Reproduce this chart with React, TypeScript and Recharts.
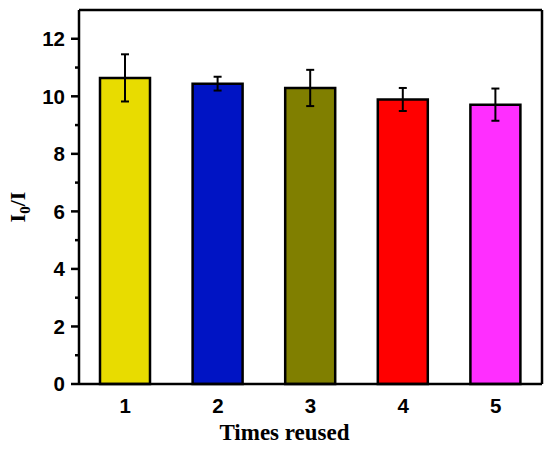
import React from "react";
import { BarChart, Bar, XAxis, YAxis, ErrorBar, Cell, ReferenceLine } from "recharts";

const times = ["1", "2", "3", "4", "5"];
const ratio = [10.64, 10.44, 10.29, 9.89, 9.71];
const errs = [0.82, 0.24, 0.63, 0.4, 0.56];
const colors = ["#E8DC00", "#0014C4", "#807F00", "#FF0000", "#FF2EFF"];
const yTicks = [0, 1, 2, 3, 4, 5, 6, 7, 8, 9, 10, 11, 12];

const data = times.map((t, i) => ({ t, v: ratio[i], e: errs[i] }));

const sans = "'Liberation Sans', Arial, sans-serif";
const serif = "'Liberation Serif', 'Times New Roman', serif";

// left axis ticks: long + label on even values, short on odd
const YTick = (props: any) => {
  const { x, y, payload } = props;
  const v = payload.value;
  const major = v % 2 === 0;
  return (
    <g>
      <line x1={x - (major ? 8 : 4)} x2={x} y1={y} y2={y} stroke="#000" strokeWidth={2.5} />
      {major && (
        <text x={x - 14} y={y} dy="0.36em" textAnchor="end" fontFamily={sans} fontWeight="bold" fontSize={20.5} fill="#000">
          {v}
        </text>
      )}
    </g>
  );
};

const XTick = (props: any) => {
  const { x, y, payload } = props;
  return (
    <text x={x} y={y} dy="0.72em" textAnchor="middle" fontFamily={sans} fontWeight="bold" fontSize={20.5} fill="#000">
      {payload.value}
    </text>
  );
};

export default function App() {
  return (
    <div style={{ position: "absolute", left: 0, top: 0 }}>
      <BarChart width={550} height={449} data={data} margin={{ top: 10, right: 0, bottom: 0, left: 0 }}>
        <XAxis
          dataKey="t"
          height={65}
          tickLine={false}
          tickSize={0}
          tickMargin={14}
          tick={<XTick />}
          axisLine={{ stroke: "#000", strokeWidth: 2.5 }}
          label={(p: any) => {
            const vb = p.viewBox || { x: 79, width: 463, y: 384 };
            return (
              <text x={vb.x + vb.width / 2 - 26} y={vb.y + 56} textAnchor="middle" fontFamily={serif} fontWeight="bold" fontSize={23} fill="#000">
                Times reused
              </text>
            );
          }}
        />
        <YAxis
          width={79}
          domain={[0, 13]}
          ticks={yTicks}
          interval={0}
          tickLine={false}
          tickSize={0}
          tickMargin={0}
          tick={<YTick />}
          axisLine={{ stroke: "#000", strokeWidth: 2.5 }}
          label={(p: any) => {
            const vb = p.viewBox || { y: 10, height: 374 };
            const cy = vb.y + vb.height / 2 + 10;
            return (
              <text transform={`translate(25,${cy}) rotate(-90)`} textAnchor="middle" fontFamily={serif} fontWeight="bold" fontSize={22} fill="#000">
                I
                <tspan dy={5} fontSize={15}>0</tspan>
                <tspan dy={-5}>/I</tspan>
              </text>
            );
          }}
        />
        <YAxis
          yAxisId="right"
          orientation="right"
          width={8}
          domain={[0, 13]}
          tick={false}
          tickLine={false}
          axisLine={{ stroke: "#000", strokeWidth: 2.5 }}
        />
        <ReferenceLine y={13} stroke="#000" strokeWidth={2.5} />
        <Bar dataKey="v" barSize={50} stroke="#000" strokeWidth={2.5} isAnimationActive={false}>
          {data.map((d, i) => (
            <Cell key={d.t} fill={colors[i]} />
          ))}
          <ErrorBar dataKey="e" width={4} stroke="#000" strokeWidth={2} />
        </Bar>
      </BarChart>
    </div>
  );
}
